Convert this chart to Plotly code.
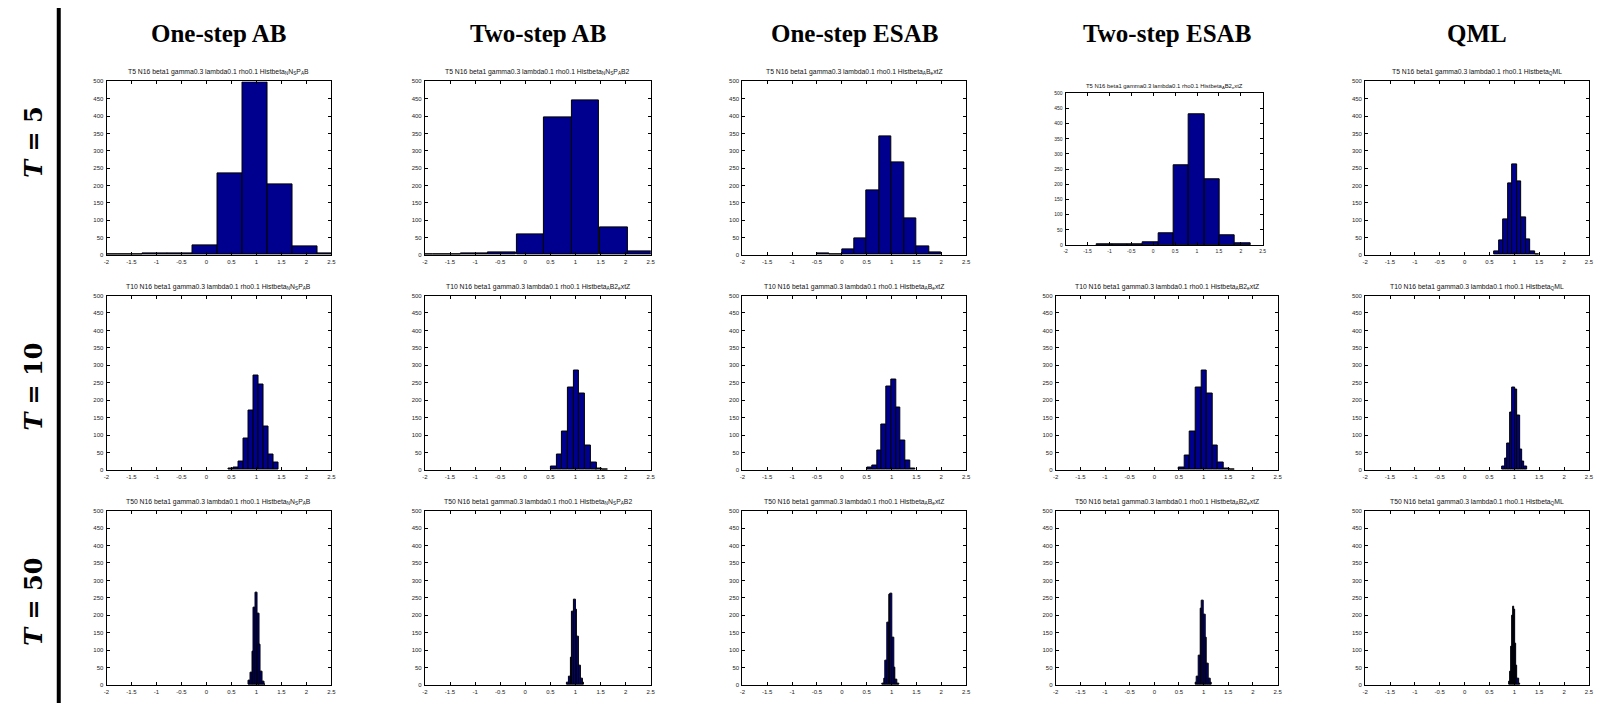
import plotly.graph_objects as go

# page body has an 8px margin: draw a figure that fits inside it
OFF = 8
W, H = 1606 - 2 * OFF, 711 - 2 * OFF

col_titles = ["One-step AB", "Two-step AB", "One-step ESAB", "Two-step ESAB", "QML"]
row_labels = ["<i>T</i> = 5", "<i>T</i> = 10", "<i>T</i> = 50"]
x_ticks = [-2, -1.5, -1, -0.5, 0, 0.5, 1, 1.5, 2, 2.5]
x_tick_text = ["-2", "-1.5", "-1", "-0.5", "0", "0.5", "1", "1.5", "2", "2.5"]
y_ticks = [0, 50, 100, 150, 200, 250, 300, 350, 400, 450, 500]

# ---- histogram data (bin centers, counts) ----
c_T5_AB1 = [-2.02, -1.52, -1.02, -0.52, -0.02, 0.48, 0.98, 1.48, 1.98, 2.48]
n_T5_AB1 = [1, 1, 3, 4, 27, 236, 497, 202, 25, 4]
c_T5_AB2 = [-2.11, -1.56, -1.01, -0.46, 0.10, 0.65, 1.20, 1.76, 2.31]
n_T5_AB2 = [1, 1, 3, 6, 60, 396, 444, 80, 9]
c_T5_ES1 = [-0.375, -0.125, 0.125, 0.375, 0.625, 0.875, 1.125, 1.375, 1.625, 1.875]
n_T5_ES1 = [3, 2, 16, 47, 187, 342, 267, 105, 25, 6]
c_T5_ES2 = [-1.11, -0.76, -0.41, -0.06, 0.29, 0.64, 0.99, 1.34, 1.69, 2.04]
n_T5_ES2 = [2, 1, 3, 9, 37, 263, 432, 216, 32, 5]
c_T5_QML = [0.645, 0.735, 0.825, 0.915, 1.005, 1.095, 1.185, 1.275, 1.365, 1.455]
n_T5_QML = [10, 41, 103, 206, 262, 213, 108, 46, 9, 2]

c_T10_AB1 = [0.495, 0.595, 0.695, 0.795, 0.895, 0.995, 1.095, 1.195, 1.295, 1.395]
n_T10_AB1 = [3, 8, 24, 91, 170, 270, 245, 125, 43, 21]
c_T10_AB2 = [0.565, 0.679, 0.792, 0.906, 1.019, 1.133, 1.246, 1.360, 1.473, 1.587]
n_T10_AB2 = [9, 43, 111, 236, 285, 219, 70, 21, 5, 1]
c_T10_ES1 = [0.566, 0.661, 0.756, 0.851, 0.946, 1.041, 1.136, 1.231, 1.326, 1.421]
n_T10_ES1 = [8, 13, 56, 131, 239, 259, 178, 84, 27, 5]
c_T10_ES2 = [0.554, 0.668, 0.782, 0.896, 1.010, 1.124, 1.238, 1.352, 1.466, 1.580]
n_T10_ES2 = [8, 42, 111, 237, 286, 219, 70, 21, 5, 1]
c_T10_QML = [0.787, 0.836, 0.885, 0.935, 0.984, 1.033, 1.082, 1.131, 1.181, 1.230]
n_T10_QML = [10, 33, 76, 164, 235, 231, 156, 60, 24, 11]

c_T50_AB1 = [0.862, 0.897, 0.931, 0.966, 1.000, 1.035, 1.069, 1.104, 1.138, 1.173]
n_T50_AB1 = [13, 35, 95, 222, 265, 205, 115, 38, 10, 2]
c_T50_AB2 = [0.850, 0.884, 0.918, 0.952, 0.986, 1.020, 1.054, 1.088, 1.122, 1.156]
n_T50_AB2 = [6, 25, 80, 210, 245, 215, 140, 55, 18, 6]
c_T50_ES1 = [0.830, 0.864, 0.898, 0.932, 0.966, 1.000, 1.034, 1.068, 1.102, 1.136]
n_T50_ES1 = [4, 20, 70, 180, 258, 262, 135, 50, 16, 5]
c_T50_ES2 = [0.850, 0.884, 0.918, 0.952, 0.986, 1.020, 1.054, 1.088, 1.122, 1.156]
n_T50_ES2 = [6, 24, 84, 218, 242, 203, 137, 62, 18, 6]
c_T50_QML = [0.900, 0.922, 0.944, 0.966, 0.988, 1.010, 1.032, 1.054, 1.076, 1.098]
n_T50_QML = [10, 40, 110, 200, 225, 215, 120, 55, 20, 5]

head = ["T5", "T10", "T50"]
tail_by_col = [
    ["Histbeta<sub>N</sub>N<sub>S</sub>P<sub>A</sub>B", "Histbeta<sub>N</sub>N<sub>S</sub>P<sub>A</sub>B2",
     "Histbeta<sub>A</sub>B<sub>e</sub>xtZ", "Histbeta<sub>A</sub>B2<sub>e</sub>xtZ", "Histbeta<sub>Q</sub>ML"],
    ["Histbeta<sub>N</sub>N<sub>S</sub>P<sub>A</sub>B", "Histbeta<sub>A</sub>B2<sub>e</sub>xtZ",
     "Histbeta<sub>A</sub>B<sub>e</sub>xtZ", "Histbeta<sub>A</sub>B2<sub>e</sub>xtZ", "Histbeta<sub>Q</sub>ML"],
    ["Histbeta<sub>N</sub>N<sub>S</sub>P<sub>A</sub>B", "Histbeta<sub>N</sub>N<sub>S</sub>P<sub>A</sub>B2",
     "Histbeta<sub>A</sub>B<sub>e</sub>xtZ", "Histbeta<sub>A</sub>B2<sub>e</sub>xtZ", "Histbeta<sub>Q</sub>ML"],
]
mid = " N16 beta1 gamma0.3 lambda0.1 rho0.1 "

data = [
    [(c_T5_AB1, n_T5_AB1), (c_T5_AB2, n_T5_AB2), (c_T5_ES1, n_T5_ES1), (c_T5_ES2, n_T5_ES2), (c_T5_QML, n_T5_QML)],
    [(c_T10_AB1, n_T10_AB1), (c_T10_AB2, n_T10_AB2), (c_T10_ES1, n_T10_ES1), (c_T10_ES2, n_T10_ES2), (c_T10_QML, n_T10_QML)],
    [(c_T50_AB1, n_T50_AB1), (c_T50_AB2, n_T50_AB2), (c_T50_ES1, n_T50_ES1), (c_T50_ES2, n_T50_ES2), (c_T50_QML, n_T50_QML)],
]

# ---- layout geometry (screen pixels) ----
col_left = [104, 424, 743, 1058, 1369]
col_width = [226, 227, 225, 223, 225]
row_top = [79, 295, 512]
row_bot = [254, 471, 688]


def px(x):
    return (x - OFF) / W


def py(y):
    return 1 - (y - OFF) / H


fig = go.Figure()
layout = {}
annotations = []
k = 0
for r in range(3):
    for c in range(5):
        k += 1
        left, right = col_left[c], col_left[c] + col_width[c]
        top, bot = row_top[r], row_bot[r]
        tfs, tkfs, tgap = 6.8, 6, 9
        if r == 0 and c == 3:
            left, right, top, bot = 1068, 1266, 91, 244
            tfs, tkfs, tgap = 5.9, 5, 7
        xa = "x" if k == 1 else f"x{k}"
        ya = "y" if k == 1 else f"y{k}"
        cen, cnt = data[r][c]
        bw = cen[1] - cen[0]
        fig.add_trace(go.Bar(x=cen, y=cnt, width=[bw] * len(cen), xaxis=xa, yaxis=ya,
                             marker=dict(color="#00008F", line=dict(color="black", width=1)),
                             showlegend=False, hoverinfo="x+y"))
        axstyle = dict(showline=True, linecolor="black", linewidth=1, mirror="ticks",
                       ticks="inside", ticklen=3, tickwidth=1, tickcolor="black",
                       showgrid=False, zeroline=False, fixedrange=True,
                       tickfont=dict(family="Liberation Sans, Arial", size=tkfs, color="#222"))
        layout["xaxis" if k == 1 else f"xaxis{k}"] = dict(
            domain=[px(left), px(right)], anchor=ya, range=[-2, 2.5],
            tickmode="array", tickvals=x_ticks, ticktext=x_tick_text, ticklabelstandoff=1, **axstyle)
        layout["yaxis" if k == 1 else f"yaxis{k}"] = dict(
            domain=[py(bot), py(top)], anchor=xa, range=[0, 500],
            tickmode="array", tickvals=y_ticks, ticklabelstandoff=1, **axstyle)
        annotations.append(dict(
            text=head[r] + mid + tail_by_col[r][c], x=px((left + right) / 2), y=py(top - tgap),
            xref="paper", yref="paper", xanchor="center", yanchor="middle", showarrow=False,
            font=dict(family="Liberation Sans, Arial", size=tfs, color="#111")))

for c in range(5):
    annotations.append(dict(
        text=f"<b>{col_titles[c]}</b>", x=px(col_left[c] + col_width[c] / 2), y=py(31),
        xref="paper", yref="paper", xanchor="center", yanchor="middle", showarrow=False,
        font=dict(family="Liberation Serif, Times New Roman", size=25, color="black")))

row_centers = [140, 387, 604]
for r in range(3):
    annotations.append(dict(
        text=f"<b>{row_labels[r]}</b>", x=px(31), y=py(row_centers[r]), textangle=-90,
        xref="paper", yref="paper", xanchor="center", yanchor="middle", showarrow=False,
        font=dict(family="DejaVu Serif, Liberation Serif", size=24, color="black")))

shapes = [dict(type="line", xref="paper", yref="paper", x0=px(56), x1=px(56),
               y0=-0.02, y1=py(5), line=dict(color="black", width=4))]

fig.update_layout(width=W, height=H, margin=dict(l=0, r=0, t=0, b=0),
                  paper_bgcolor="white", plot_bgcolor="white", bargap=0,
                  annotations=annotations, shapes=shapes, **layout)

fig.write_html("out.html")
